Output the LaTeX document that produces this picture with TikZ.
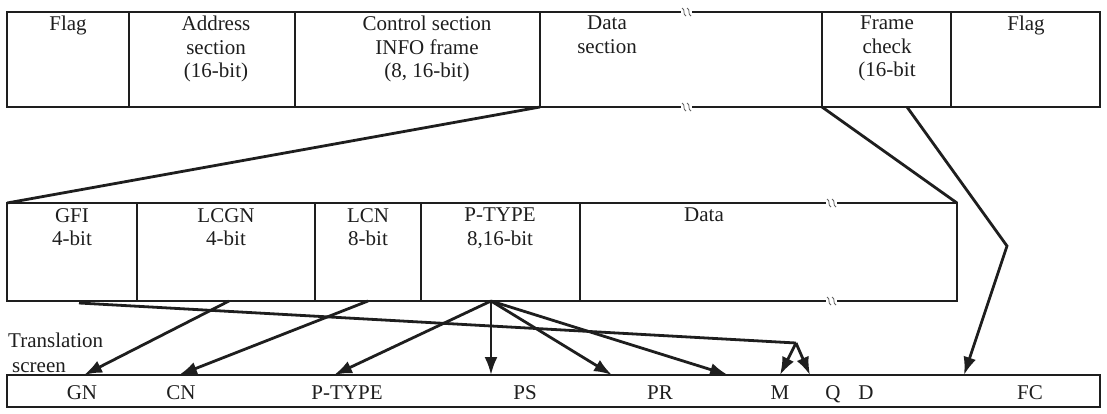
\documentclass[tikz,border=0pt]{standalone}
\usepackage{fontspec}
\setmainfont{Liberation Serif}
\usetikzlibrary{arrows.meta}
\definecolor{ink}{HTML}{1E1E1E}
\begin{document}
\begin{tikzpicture}[x=1pt,y=-1pt,
  cell/.style={draw=ink,line width=1.6pt,inner sep=0pt,outer sep=0pt,anchor=north west},
  bare/.style={inner sep=0pt,outer sep=0pt,anchor=north west},
  edge/.style={draw=ink,line width=1.6pt},
  txt/.style={anchor=north,align=center,inner sep=0pt,font=\fontsize{21}{23.5}\selectfont,text=ink},
  lbl/.style={anchor=base,inner sep=0pt,font=\fontsize{21}{23.5}\selectfont,text=ink},
  conn/.style={draw=ink,line width=2.8pt},
  arr/.style={conn,-{Latex[length=18pt,width=13pt]}},
  brk/.style={draw=ink!70,line width=0.8pt},
]
\useasboundingbox (0,0) rectangle (1107,413);

% ---------- top row ----------
\node[cell,minimum width=122pt,minimum height=95pt] (f1) at (7,12) {};
\node[cell,minimum width=166pt,minimum height=95pt] (f2) at (129,12) {};
\node[cell,minimum width=245pt,minimum height=95pt] (f3) at (295,12) {};
\node[bare,minimum width=282pt,minimum height=95pt] (f4) at (540,12) {};
\node[cell,minimum width=129pt,minimum height=95pt] (f5) at (822,12) {};
\node[cell,minimum width=149pt,minimum height=95pt] (f6) at (951,12) {};

\coordinate (f4ta) at (681,12); \coordinate (f4tb) at (692,12);
\coordinate (f4ba) at (681,107); \coordinate (f4bb) at (692,107);
\draw[edge] (f4.north west) -- (f4ta);
\draw[edge] (f4tb) -- (f4.north east);
\draw[edge] (f4.south west) -- (f4ba);
\draw[edge] (f4bb) -- (f4.south east);
\foreach \xx in {684,689}{
  \draw[brk] (\xx-2,8) .. controls (\xx+2,10) and (\xx-2,14) .. (\xx+2,16);
  \draw[brk] (\xx-2,103) .. controls (\xx+2,105) and (\xx-2,109) .. (\xx+2,111);
}

\node[txt] (tf1) at (68,16) {Flag};
\node[txt] (tf2) at (216,16) {Address\\section\\(16-bit)};
\node[txt] (tf3) at (427,16) {Control section\\INFO frame\\(8, 16-bit)};
\node[txt] (tf4) at (607,16) {Data\\section};
\node[txt] (tf5) at (887,16) {Frame\\check\\(16-bit};
\node[txt] (tf6) at (1026,16) {Flag};

% ---------- second row ----------
\node[cell,minimum width=130pt,minimum height=98pt] (g1) at (7,203) {};
\node[cell,minimum width=178pt,minimum height=98pt] (g2) at (137,203) {};
\node[cell,minimum width=106pt,minimum height=98pt] (g3) at (315,203) {};
\node[cell,minimum width=159pt,minimum height=98pt] (g4) at (421,203) {};
\node[bare,minimum width=377pt,minimum height=98pt] (g5) at (580,203) {};

\coordinate (g5ta) at (826,203); \coordinate (g5tb) at (837,203);
\coordinate (g5ba) at (826,301); \coordinate (g5bb) at (837,301);
\draw[edge] (g5.north west) -- (g5ta);
\draw[edge] (g5tb) -- (g5.north east) -- (g5.south east) -- (g5bb);
\draw[edge] (g5.south west) -- (g5ba);
\foreach \xx in {829,834}{
  \draw[brk] (\xx-2,199) .. controls (\xx+2,201) and (\xx-2,205) .. (\xx+2,207);
  \draw[brk] (\xx-2,297) .. controls (\xx+2,299) and (\xx-2,303) .. (\xx+2,305);
}

\node[txt] (tg1) at (72,208) {GFI\\4-bit};
\node[txt] (tg2) at (226,208) {LCGN\\4-bit};
\node[txt] (tg3) at (368,208) {LCN\\8-bit};
\node[txt] (tg4) at (500,208) {P-TYPE\\8,16-bit};
\node[txt] (tg5) at (704,208) {Data};

% ---------- bottom row ----------
\node[cell,minimum width=1093pt,minimum height=32pt] (h) at (7,375) {};
\node[lbl] (hGN) at (82,399) {GN};
\node[lbl] (hCN) at (181,399) {CN};
\node[lbl] (hPT) at (347,399) {P-TYPE};
\node[lbl] (hPS) at (525,399) {PS};
\node[lbl] (hPR) at (660,399) {PR};
\node[lbl] (hM) at (780,399) {M};
\node[lbl] (hQ) at (833,399) {Q};
\node[lbl] (hD) at (866,399) {D};
\node[lbl] (hFC) at (1030,399) {FC};

\node[lbl,anchor=base west] (tr1) at (8,347) {Translation};
\node[lbl,anchor=base west] (tr2) at (12,372) {screen};

% ---------- connectors ----------
\draw[conn] (f4.south west) -- (g1.north west);
\draw[conn] (f5.south west) -- (g5.north east);

\coordinate (fcs) at (907,107);
\coordinate (fcv) at (1007,246);
\coordinate (fct) at (964,375);
\draw[arr] (fcs) -- (fcv) -- (fct);

\coordinate (gfis) at (79,303);
\coordinate (mv) at (796,343);
\coordinate (m1) at (780,375);
\coordinate (m2) at (810,375);
\draw[conn] (gfis) -- (mv);
\draw[arr] (mv) -- (m1);
\draw[arr] (mv) -- (m2);

\coordinate (lcgs) at (229,301);
\coordinate (gnt) at (84,375);
\draw[arr] (lcgs) -- (gnt);

\coordinate (lcns) at (368,301);
\coordinate (cnt) at (179,375);
\draw[arr] (lcns) -- (cnt);

\coordinate (ptv) at (491,301);
\coordinate (ptt) at (334,375);
\coordinate (pst) at (491,375);
\coordinate (prt) at (612,375);
\coordinate (mt) at (728,375);
\draw[arr] (ptv) -- (ptt);
\draw[arr] (ptv) -- (pst);
\draw[arr] (ptv) -- (prt);
\draw[arr] (ptv) -- (mt);
\end{tikzpicture}
\end{document}
